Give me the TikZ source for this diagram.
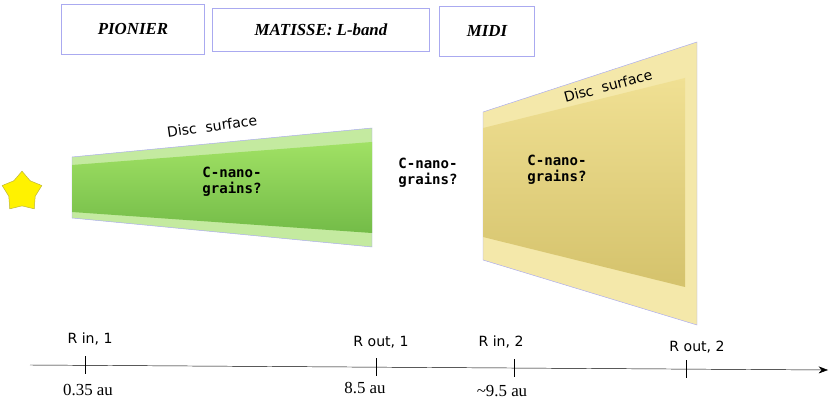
\documentclass[tikz,border=0pt]{standalone}
\usepackage{fontspec}
\setmainfont{Liberation Serif}
\newfontfamily\labelfont{DejaVu Sans}
\newfontfamily\grainfont{DejaVu Sans Mono}
\usetikzlibrary{shapes.geometric, arrows.meta}
\definecolor{boxline}{RGB}{170,170,240}
\definecolor{greenband}{RGB}{196,234,160}
\definecolor{greencore}{RGB}{160,225,100}
\definecolor{yellowband}{RGB}{244,232,170}
\definecolor{yellowcore}{RGB}{236,216,120}

\begin{document}
\begin{tikzpicture}[x=0.03cm, y=-0.03cm]
    \tikzset{instr/.style = {rectangle, draw=boxline, fill=white,
                            minimum height=1.5cm, font=\bfseries\itshape\Large}}
    \tikzset{grains/.style = {align=left, font=\grainfont\bfseries\large}}
    \tikzset{surface/.style = {font=\labelfont\large}}
    \tikzset{tick/.style = {font=\labelfont\large}}
    \tikzset{dist/.style = {font=\Large}}

    \useasboundingbox (0,0) rectangle (830,404);

    \node (pionier) [instr, minimum width=4.3cm] at (133,29) {PIONIER};
    \node (matisse) [instr, minimum width=6.5cm, minimum height=1.3cm] at (321,30) {MATISSE: L-band};
    \node (midi) [instr, minimum width=2.85cm] at (487,31) {MIDI};

    \node (star) [star, star points=5, fill=yellow, draw=yellow!70!black,
                  minimum size=1.25cm, inner sep=0pt] at (22,192) {};

    % inner disc
    \fill[greenband, draw=boxline] (72,157) -- (372,128) -- (372,247) -- (72,218) -- cycle;
    \shade[top color=greencore, bottom color=greencore!80!black!90!green]
        (72,165) -- (372,142) -- (372,233) -- (72,212) -- cycle;
    \node (surf1) [surface, rotate=8] at (212,126) {Disc \ surface};
    \node (grains1) [grains] at (232,182) {C-nano-\\grains?};

    \node (grainsgap) [grains] at (428,173) {C-nano-\\grains?};

    % outer disc
    \fill[yellowband, draw=boxline] (483,112) -- (697,42) -- (697,325) -- (483,260) -- cycle;
    \shade[top color=yellowcore!80!white, bottom color=yellowcore!90!black]
        (483,128) -- (685,78) -- (685,287) -- (483,237) -- cycle;
    \node (surf2) [surface, rotate=15] at (608,86) {Disc \ surface};
    \node (grains2) [grains] at (557,170) {C-nano-\\grains?};

    % radius axis
    \coordinate (axstart) at (30,365);
    \coordinate (axend) at (828,370);
    \draw[-{Stealth[length=8pt]}] (axstart) -- (axend);
    \foreach \x/\y in {85/365.3, 376/367.2, 514/368.1, 686/369.2}
        \draw (\x,\y-9) -- (\x,\y+9);

    \node (rin1) [tick] at (90,339) {R in, 1};
    \node (rout1) [tick] at (381,342) {R out, 1};
    \node (rin2) [tick] at (501,342) {R in, 2};
    \node (rout2) [tick] at (697,347) {R out, 2};
    \node (d1) [dist] at (88,390) {0.35 au};
    \node (d2) [dist] at (365,388) {8.5 au};
    \node (d3) [dist] at (502,391) {\char`~9.5 au};
\end{tikzpicture}
\end{document}
